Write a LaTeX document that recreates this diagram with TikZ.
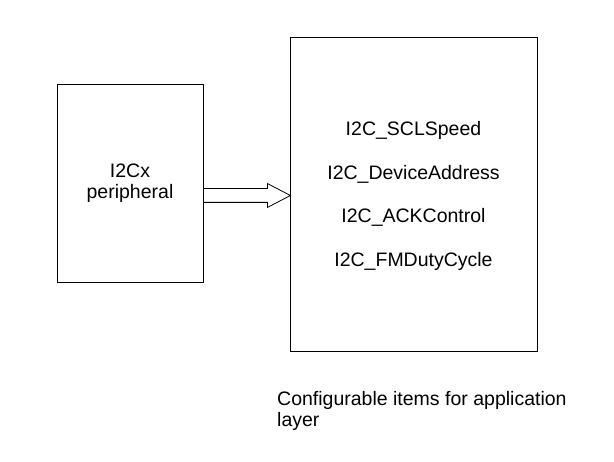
\documentclass[tikz,border=0pt]{standalone}
\usepackage{fontspec}
\setmainfont{Liberation Sans}
\usetikzlibrary{shapes.arrows}
\tikzset{
    block/.style={draw=black,line width=0.8pt,fill=white,rectangle},
    item/.style={inner sep=0pt,anchor=base,font=\fontsize{19.5}{21}\selectfont},
    pass/.style={draw=black,line width=0.8pt,shape=single arrow,inner xsep=0pt,inner ysep=6.5pt,
        single arrow head extend=5pt,single arrow tip angle=55,minimum height=87pt,outer sep=0pt}
}
\begin{document}
\begin{tikzpicture}[x=1pt,y=-1pt]
    \useasboundingbox (0,0) rectangle (614,462);
    \node[block,minimum width=146pt,minimum height=198pt] (periph) at (130,183) {};
    \node[block,minimum width=247pt,minimum height=314pt] (items) at (413.5,194) {};
    \node[item,align=center,anchor=center] (periphtxt) at (periph.center) {I2Cx\\peripheral};
    \node[item] (sclspeed) at (413.5,136) {I2C\_SCLSpeed};
    \node[item] (devaddr) at (413.5,179.5) {I2C\_DeviceAddress};
    \node[item] (ackctrl) at (413.5,223) {I2C\_ACKControl};
    \node[item] (fmduty) at (413.5,267) {I2C\_FMDutyCycle};
    \node[pass,anchor=tail] (cfgarrow) at (periph.east |- 0,195.5) {};
    \node[item,align=left,anchor=north west] (caption) at (277,391) {Configurable items for application\\layer};
\end{tikzpicture}
\end{document}
